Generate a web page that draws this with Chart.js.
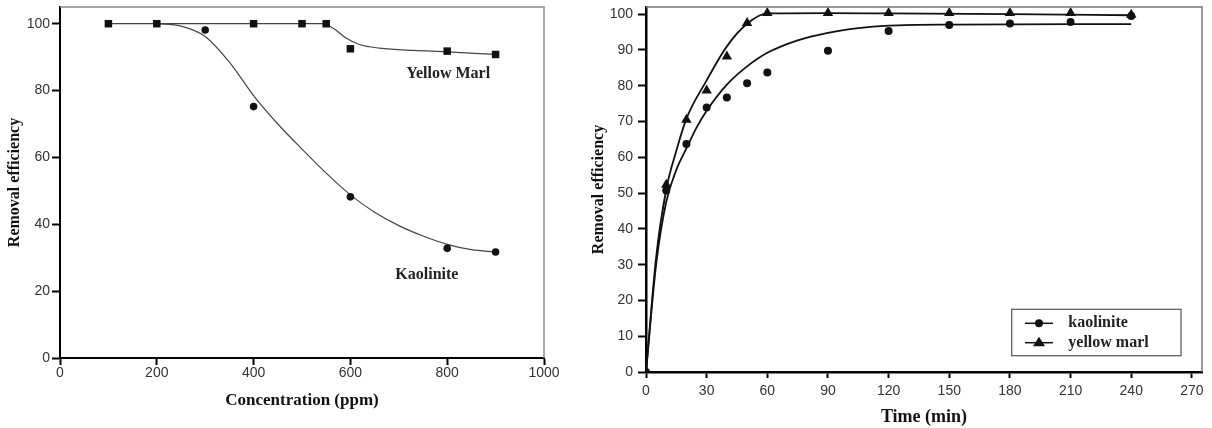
<!DOCTYPE html>
<html><head><meta charset="utf-8">
<script src="https://cdn.jsdelivr.net/npm/chart.js@4.4.1/dist/chart.umd.min.js"></script>
<style>
html,body{margin:0;padding:0;background:#fff;}
#wrap{position:relative;width:1212px;height:428px;overflow:hidden;background:#fff;}
#c1{position:absolute;left:0;top:0;}
#c2{position:absolute;left:580px;top:0;}
</style></head><body>
<div id="wrap"><canvas id="c1" width="570" height="428"></canvas><canvas id="c2" width="632" height="428"></canvas></div>
<script>
// ---------- Left panel: removal efficiency vs concentration ----------
const concTicks = [0, 200, 400, 600, 800, 1000];
const effTicksLeft = [0, 20, 40, 60, 80, 100];
const marlConc = [100, 200, 400, 500, 550, 600, 800, 900];
const marlEff  = [100, 100, 100, 100, 100, 92.5, 91.8, 90.8];
const kaoConc  = [300, 400, 600, 800, 900];
const kaoEff   = [98.1, 75.2, 48.2, 32.8, 31.7];
const marlFitConc = [100, 200, 300, 400, 500, 540, 565, 590, 620, 660, 730, 800, 900];
const marlFitEff  = [100, 100, 100, 100, 100, 100, 98.6, 95.8, 93.7, 92.7, 92.0, 91.6, 90.8];
const kaoFitConc = [200, 250, 300, 350, 400, 450, 500, 550, 600, 650, 700, 750, 800, 850, 900];
const kaoFitEff  = [100, 99.3, 96.2, 88.5, 78.5, 70, 62.5, 55.3, 48.8, 43.6, 39.6, 36.5, 34, 32.4, 31.7];
const leftCurveLabels = ['Yellow Marl', 'Kaolinite'];

// ---------- Right panel: removal efficiency vs time ----------
const timeTicks = [0, 30, 60, 90, 120, 150, 180, 210, 240, 270];
const effTicksRight = [0, 10, 20, 30, 40, 50, 60, 70, 80, 90, 100];
const sampleTime = [0, 10, 20, 30, 40, 50, 60, 90, 120, 150, 180, 210, 240];
const kaoTimeEff  = [0, 50.7, 63.7, 73.9, 76.7, 80.7, 83.7, 89.8, 95.3, 97.0, 97.4, 97.8, 99.5];
const marlTimeEff = [0, 52.3, 70.5, 78.7, 88.2, 97.5, 100.3, 100.3, 100.3, 100.3, 100.3, 100.3, 99.8];
const kaoFitTime = [0, 5, 10, 15, 20, 25, 30, 40, 50, 60, 75, 90, 105, 120, 150, 240];
const kaoFitTimeEff = [0, 30, 47.5, 56.5, 62.5, 68.3, 73, 80.3, 85.4, 89.2, 92.7, 94.8, 96.1, 96.8, 97.1, 97.2];
const marlFitTime = [0, 5, 10, 15, 20, 30, 40, 50, 60, 90, 120, 180, 240];
const marlFitTimeEff = [0, 32, 51, 61.8, 70.8, 81.5, 91, 97.3, 100.2, 100.3, 100.2, 100, 99.7];
const legendLabels = ['kaolinite', 'yellow marl'];

const zip = (xs, ys) => xs.map((x, i) => ({x: x, y: ys[i]}));
const SERIF = '"Liberation Serif", "Times New Roman", serif';
const SANS = '"Liberation Sans", Arial, sans-serif';

// frame: thin grey top/right border lines
const framePlugin = {
  id: 'frame',
  afterDraw(chart, args, o) {
    const {ctx, chartArea: a} = chart;
    ctx.save();
    ctx.strokeStyle = o.color; ctx.lineWidth = o.width;
    ctx.beginPath();
    ctx.moveTo(a.left, a.top); ctx.lineTo(a.right, a.top); ctx.lineTo(a.right, a.bottom);
    ctx.stroke();
    ctx.restore();
  }
};
// curve labels positioned in data coordinates
const curveLabelPlugin = {
  id: 'curveLabels',
  afterDatasetsDraw(chart, args, o) {
    if (!o.items) return;
    const {ctx} = chart;
    const xs = chart.scales.x, ys = chart.scales.y;
    ctx.save();
    ctx.font = o.font; ctx.fillStyle = o.color;
    ctx.textAlign = 'center'; ctx.textBaseline = 'middle';
    o.items.forEach(it => ctx.fillText(it.text, xs.getPixelForValue(it.x), ys.getPixelForValue(it.y)));
    ctx.restore();
  }
};
function drawMarker(ctx, style, x, y, r) {
  ctx.beginPath();
  if (style === 'circle') ctx.arc(x, y, r, 0, Math.PI * 2);
  else if (style === 'triangle') {
    ctx.moveTo(x, y - r); ctx.lineTo(x + r * 0.866 * 1.15, y + r * 0.6); ctx.lineTo(x - r * 0.866 * 1.15, y + r * 0.6); ctx.closePath();
  } else ctx.rect(x - r, y - r, 2 * r, 2 * r);
  ctx.fill();
}
// boxed legend inside the plot area
const boxLegendPlugin = {
  id: 'boxLegend',
  afterDraw(chart, args, o) {
    if (!o.items) return;
    const {ctx, chartArea: a} = chart;
    const x0 = a.right - o.right - o.width, y0 = a.bottom - o.bottom - o.height;
    ctx.save();
    ctx.fillStyle = '#fff';
    ctx.fillRect(x0, y0, o.width, o.height);
    ctx.strokeStyle = '#555'; ctx.lineWidth = 1.2;
    ctx.strokeRect(x0, y0, o.width, o.height);
    o.items.forEach((it, i) => {
      const cy = y0 + o.rowY[i];
      ctx.strokeStyle = '#111'; ctx.lineWidth = 1.5;
      ctx.beginPath(); ctx.moveTo(x0 + o.lineX0, cy); ctx.lineTo(x0 + o.lineX1, cy); ctx.stroke();
      ctx.fillStyle = '#111';
      drawMarker(ctx, it.style, x0 + (o.lineX0 + o.lineX1) / 2, cy, it.r);
      ctx.fillStyle = '#222'; ctx.font = o.font; ctx.textAlign = 'left'; ctx.textBaseline = 'middle';
      ctx.fillText(it.text, x0 + o.textX, cy);
    });
    ctx.restore();
  }
};

function axis(opts) {
  return {
    type: 'linear', min: opts.min, max: opts.max, position: opts.position,
    afterBuildTicks: s => { s.ticks = opts.ticks.map(v => ({value: v})); },
    afterFit: s => {
      if (opts.position === 'left') s.width = opts.size; else s.height = opts.size;
      s.paddingTop = 0; s.paddingBottom = 0; s.paddingLeft = 0; s.paddingRight = 0;
    },
    border: {display: true, color: '#000', width: opts.borderWidth},
    grid: {display: true, drawOnChartArea: false, drawTicks: true, tickLength: opts.tickLength, tickColor: '#000', tickWidth: opts.tickWidth},
    ticks: {color: '#333', font: {family: SANS, size: 14}, padding: opts.tickPad, autoSkip: false, maxRotation: 0, includeBounds: false,
            callback: v => String(v)},
    title: {display: true, text: opts.title, color: '#111', font: {family: SERIF, size: opts.titleSize, weight: 'bold', lineHeight: 1}, padding: opts.titlePad}
  };
}

const common = {
  responsive: false, animation: false, devicePixelRatio: 1,
  plugins: {legend: {display: false}, tooltip: {enabled: false}},
};

new Chart(document.getElementById('c1'), {
  type: 'scatter',
  data: {
    datasets: [
      {label: 'Yellow Marl', data: zip(marlConc, marlEff), pointStyle: 'rect', pointRadius: 5.3, backgroundColor: '#111', borderColor: '#111', borderWidth: 0, showLine: false},
      {label: 'Kaolinite', data: zip(kaoConc, kaoEff), pointStyle: 'circle', pointRadius: 3.8, backgroundColor: '#111', borderColor: '#111', borderWidth: 0, showLine: false},
      {label: 'Yellow Marl fit', data: zip(marlFitConc, marlFitEff), showLine: true, pointRadius: 0, borderColor: '#444', borderWidth: 1.2, cubicInterpolationMode: 'monotone', fill: false},
      {label: 'Kaolinite fit', data: zip(kaoFitConc, kaoFitEff), showLine: true, pointRadius: 0, borderColor: '#444', borderWidth: 1.2, cubicInterpolationMode: 'monotone', fill: false}
    ]
  },
  options: Object.assign({}, common, {
    layout: {padding: {left: 0, top: 7, right: 26, bottom: 0}},
    scales: {
      x: axis({min: 0, max: 1000, position: 'bottom', ticks: concTicks, size: 70, borderWidth: 2, tickLength: 7, tickWidth: 2, tickPad: 0, title: 'Concentration (ppm)', titleSize: 17, titlePad: {top: 0, bottom: 19}}),
      y: axis({min: 0, max: 105, position: 'left', ticks: effTicksLeft, size: 60, borderWidth: 2, tickLength: 8, tickWidth: 2, tickPad: 2, title: 'Removal efficiency', titleSize: 16, titlePad: {top: 7, bottom: 0}})
    },
    plugins: Object.assign({}, common.plugins, {
      frame: {color: '#888', width: 1.5},
      curveLabels: {font: 'bold 16px ' + SERIF, color: '#222', items: [
        {text: leftCurveLabels[0], x: 802, y: 85.0},
        {text: leftCurveLabels[1], x: 758, y: 24.9}
      ]}
    })
  }),
  plugins: [framePlugin, curveLabelPlugin]
});

new Chart(document.getElementById('c2'), {
  type: 'scatter',
  data: {
    datasets: [
      {label: 'kaolinite', data: zip(sampleTime, kaoTimeEff), pointStyle: 'circle', pointRadius: 4, backgroundColor: '#111', borderColor: '#111', borderWidth: 0, showLine: false},
      {label: 'yellow marl', data: zip(sampleTime, marlTimeEff), pointStyle: 'triangle', pointRadius: 6, backgroundColor: '#111', borderColor: '#111', borderWidth: 0, showLine: false},
      {label: 'kaolinite fit', data: zip(kaoFitTime, kaoFitTimeEff), showLine: true, pointRadius: 0, borderColor: '#111', borderWidth: 1.8, cubicInterpolationMode: 'monotone', fill: false},
      {label: 'yellow marl fit', data: zip(marlFitTime, marlFitTimeEff), showLine: true, pointRadius: 0, borderColor: '#111', borderWidth: 1.8, cubicInterpolationMode: 'monotone', fill: false}
    ]
  },
  options: Object.assign({}, common, {
    layout: {padding: {left: 0, top: 7, right: 10, bottom: 0}},
    scales: {
      x: axis({min: 0, max: 275, position: 'bottom', ticks: timeTicks, size: 56, borderWidth: 2.5, tickLength: 6, tickWidth: 2, tickPad: 5, title: 'Time (min)', titleSize: 18, titlePad: {top: 0, bottom: 2}}),
      y: axis({min: 0, max: 102, position: 'left', ticks: effTicksRight, size: 66, borderWidth: 2.5, tickLength: 8, tickWidth: 2, tickPad: 5, title: 'Removal efficiency', titleSize: 16, titlePad: {top: 11, bottom: 0}})
    },
    plugins: Object.assign({}, common.plugins, {
      frame: {color: '#777', width: 1.5},
      boxLegend: {
        right: 21, bottom: 16.3, width: 169.3, height: 46.4,
        rowY: [14, 33.4], lineX0: 13.3, lineX1: 41.3, textX: 56.6,
        font: 'bold 16px ' + SERIF,
        items: [
          {text: legendLabels[0], style: 'circle', r: 4},
          {text: legendLabels[1], style: 'triangle', r: 6}
        ]
      }
    })
  }),
  plugins: [framePlugin, boxLegendPlugin]
});
</script>
</body></html>
